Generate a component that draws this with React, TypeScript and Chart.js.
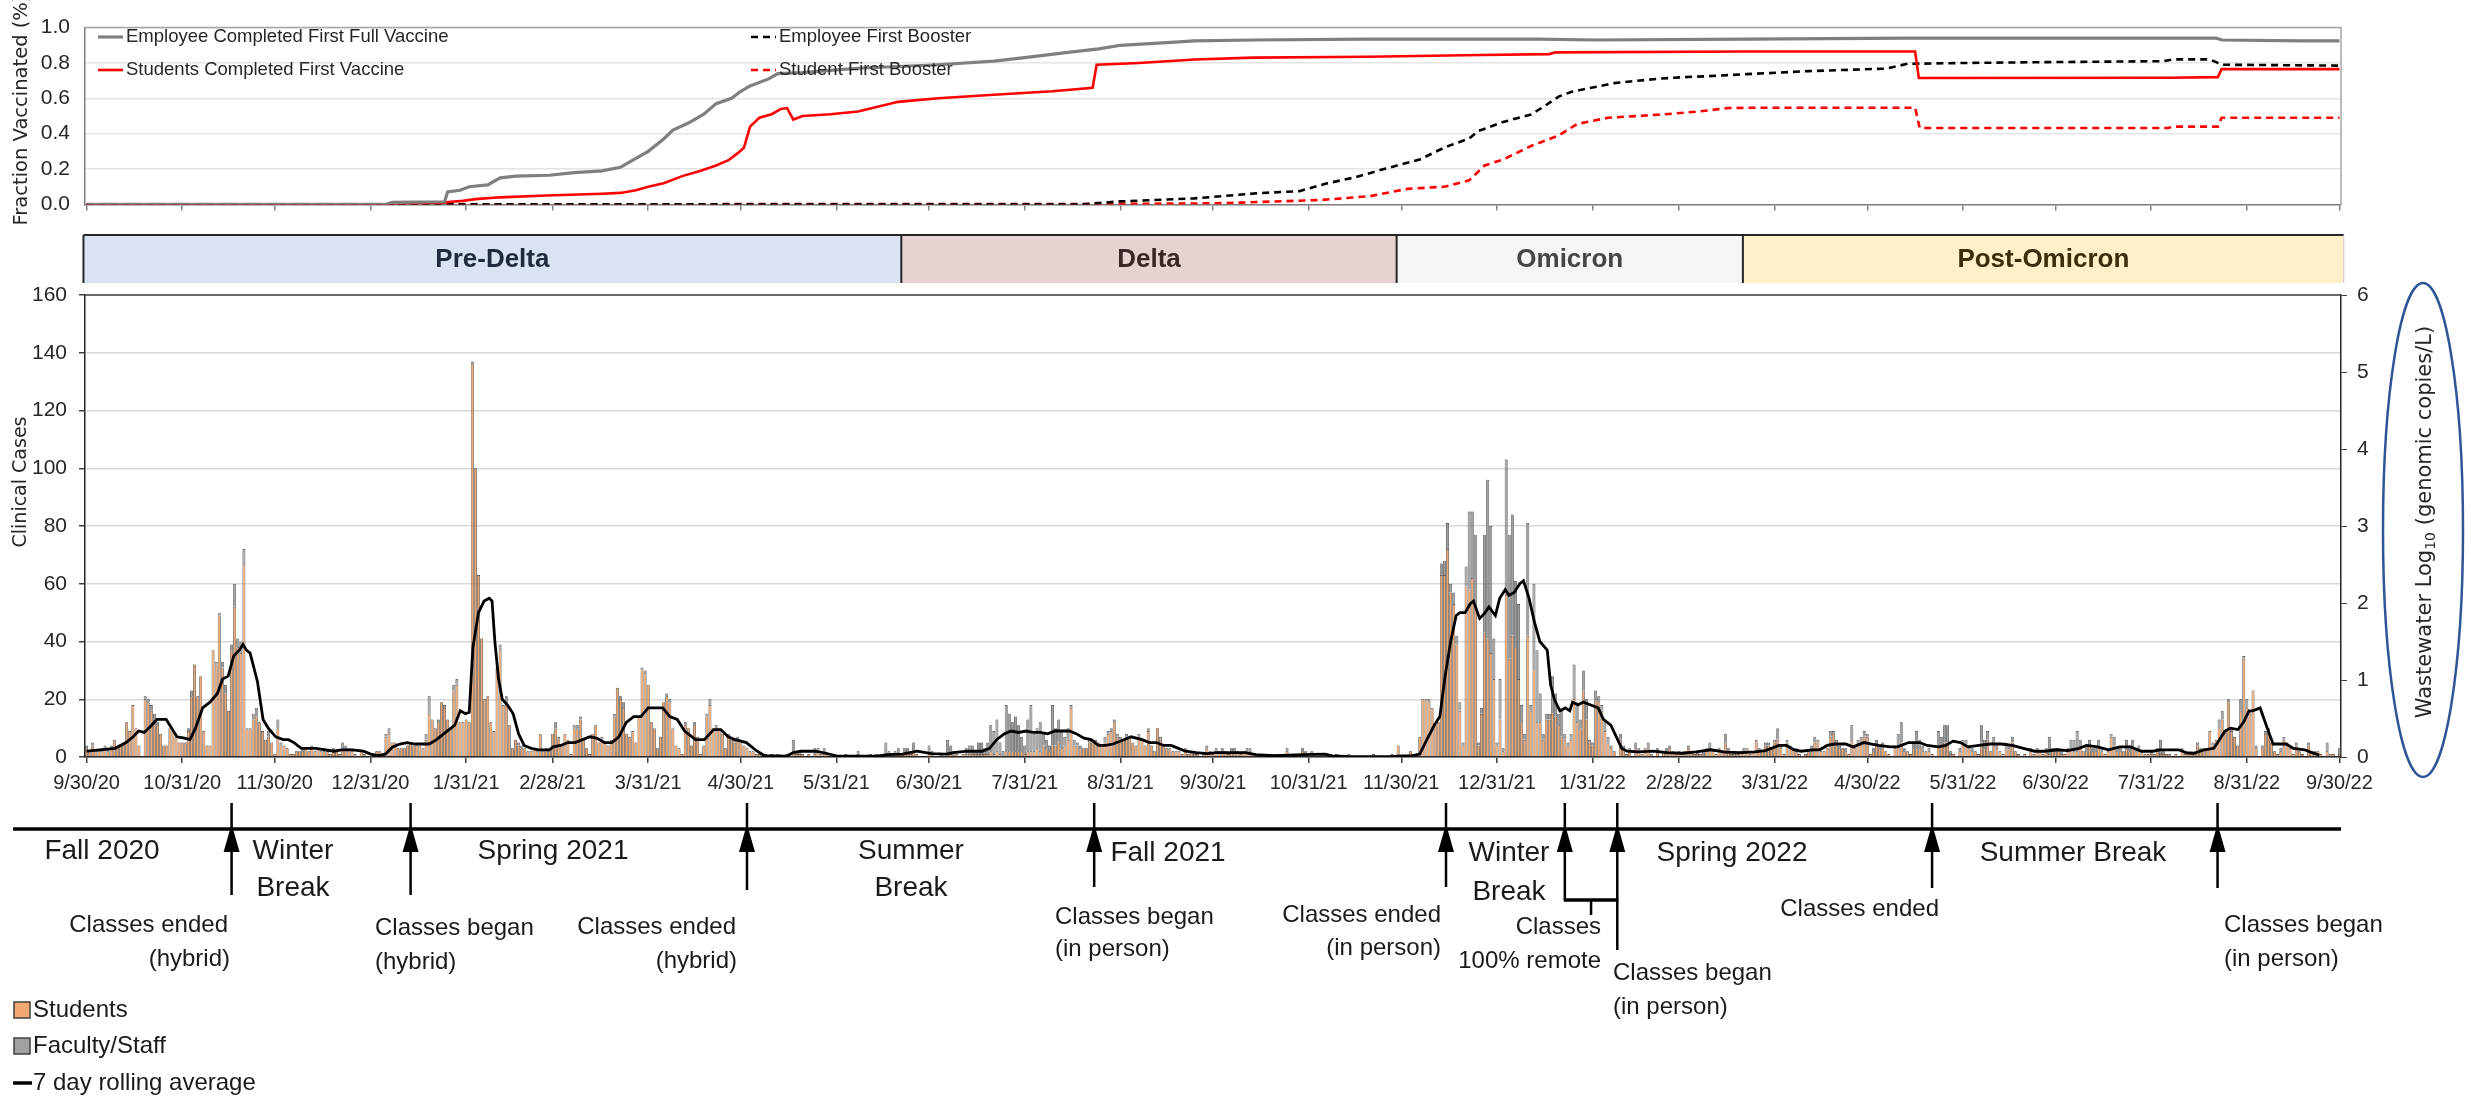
import React, { useEffect, useRef } from 'react';
import { Chart, registerables } from 'chart.js';

Chart.register(...registerables);

// ---------------- DATA ----------------
// x positions are "days since 9/30/2020"
const monthTickDays = [0, 31, 61, 92, 123, 151, 182, 212, 243, 273, 304, 335, 365, 396, 426, 457, 488, 516, 547, 577, 608, 638, 669, 700, 730];
const monthTickLabels = ['9/30/20', '10/31/20', '11/30/20', '12/31/20', '1/31/21', '2/28/21', '3/31/21', '4/30/21', '5/31/21', '6/30/21', '7/31/21', '8/31/21', '9/30/21', '10/31/21', '11/30/21', '12/31/21', '1/31/22', '2/28/22', '3/31/22', '4/30/22', '5/31/22', '6/30/22', '7/31/22', '8/31/22', '9/30/22'];

// daily clinical cases, students (first array starts on 9/30/20)
const studentsOct20 = [3, 2, 4, 2, 2, 2, 3, 2, 3, 6, 3, 4, 5, 12, 9, 18, 10, 4, 0, 20, 19, 16, 13, 11, 8, 4, 4, 10, 9, 7, 5, 5];
const studentsNov20 = [5, 9, 21, 32, 21, 28, 9, 4, 4, 37, 32, 49, 31, 22, 16, 37, 52, 38, 36, 66, 10, 10, 13, 14, 12, 9, 6, 7, 5, 1];
const studentsDec20 = [10, 4, 4, 3, 1, 1, 2, 2, 2, 3, 2, 3, 2, 3, 2, 2, 2, 1, 2, 2, 1, 3, 3, 3, 2, 1, 0, 2, 1, 0, 0];
const studentsJan21 = [0, 2, 2, 1, 7, 8, 5, 5, 3, 3, 3, 4, 5, 4, 4, 4, 3, 6, 15, 13, 10, 12, 19, 17, 13, 10, 23, 25, 12, 12, 13];
const studentsFeb21 = [12, 136, 100, 63, 41, 20, 21, 12, 9, 31, 37, 18, 19, 11, 3, 6, 4, 3, 3, 2, 2, 3, 2, 8, 2, 3, 2, 8];
const studentsMar21 = [10, 6, 4, 8, 6, 1, 10, 10, 13, 6, 3, 1, 8, 11, 5, 6, 5, 4, 6, 14, 24, 20, 17, 8, 7, 9, 5, 14, 30, 29, 25];
const studentsApr21 = [12, 10, 3, 7, 19, 21, 19, 10, 4, 3, 1, 11, 10, 4, 11, 7, 1, 4, 14, 18, 10, 10, 10, 8, 3, 7, 6, 5, 6, 5];
const studentsMay21 = [4, 3, 2, 2, 1, 1, 0, 1, 0, 1, 0, 1, 0, 0, 1, 0, 2, 1, 1, 1, 0, 1, 0, 1, 2, 1, 1, 1, 0, 0, 0];
const studentsJun21 = [0, 0, 1, 0, 0, 0, 1, 0, 0, 0, 1, 0, 1, 0, 0, 1, 1, 0, 1, 1, 1, 1, 2, 1, 2, 1, 0, 0, 0, 1];
const studentsJul21 = [0, 0, 0, 0, 0, 1, 1, 0, 1, 0, 1, 1, 1, 1, 1, 1, 1, 1, 1, 2, 1, 2, 1, 0, 2, 2, 2, 2, 2, 2, 1];
const studentsAug21 = [2, 2, 2, 3, 2, 4, 3, 2, 4, 4, 5, 3, 4, 6, 17, 4, 4, 3, 3, 3, 5, 5, 5, 5, 4, 5, 8, 9, 12, 7, 6];
const studentsSep21 = [6, 7, 7, 5, 4, 7, 6, 4, 9, 4, 2, 10, 6, 4, 3, 3, 2, 2, 2, 1, 3, 1, 2, 1, 1, 0, 1, 3, 2, 1];
const studentsOct21 = [2, 2, 2, 2, 1, 2, 2, 2, 1, 2, 2, 2, 1, 0, 0, 1, 0, 0, 0, 1, 1, 0, 0, 2, 1, 0, 0, 1, 2, 1, 1];
const studentsNov21 = [1, 1, 0, 1, 1, 0, 0, 0, 1, 0, 0, 0, 1, 0, 0, 0, 0, 0, 0, 0, 1, 0, 0, 0, 0, 0, 1, 0, 4, 0];
const studentsDec21 = [0, 0, 2, 1, 1, 7, 20, 20, 19, 17, 11, 12, 63, 63, 72, 57, 53, 39, 16, 4, 59, 58, 62, 53, 4, 15, 43, 41, 36, 27, 4];
const studentsJan22 = [13, 2, 56, 34, 42, 38, 27, 12, 6, 42, 16, 30, 12, 12, 6, 13, 13, 15, 14, 11, 7, 6, 4, 6, 20, 12, 10, 23, 13, 5, 4];
const studentsFeb22 = [20, 19, 16, 9, 5, 3, 2, 0, 6, 3, 1, 2, 0, 3, 2, 1, 3, 3, 1, 0, 2, 0, 2, 2, 3, 2, 1, 1];
const studentsMar22 = [1, 1, 3, 2, 1, 1, 1, 1, 2, 3, 2, 1, 2, 2, 5, 2, 1, 1, 1, 2, 2, 3, 1, 2, 5, 2, 2, 4, 4, 3, 5];
const studentsApr22 = [6, 3, 1, 5, 3, 3, 2, 1, 0, 1, 2, 2, 5, 5, 2, 2, 3, 7, 8, 5, 3, 3, 2, 1, 5, 3, 4, 5, 7, 7];
const studentsMay22 = [1, 2, 4, 3, 3, 2, 1, 0, 3, 4, 5, 2, 2, 1, 3, 3, 3, 2, 2, 2, 1, 0, 4, 4, 5, 5, 1, 1, 0, 2, 4];
const studentsJun22 = [4, 3, 2, 2, 1, 5, 3, 6, 2, 4, 3, 2, 1, 3, 3, 5, 2, 1, 0, 1, 0, 2, 1, 2, 2, 1, 2, 1, 2, 2];
const studentsJul22 = [2, 1, 1, 2, 3, 2, 2, 3, 2, 2, 4, 2, 2, 3, 2, 1, 2, 7, 4, 2, 2, 2, 3, 2, 3, 2, 2, 2, 1, 1, 1];
const studentsAug22 = [1, 2, 1, 1, 1, 1, 0, 1, 0, 2, 1, 1, 1, 1, 4, 2, 3, 3, 9, 4, 6, 10, 13, 8, 19, 9, 7, 4, 16, 34, 17];
const studentsSep22 = [15, 23, 3, 0, 3, 8, 9, 5, 2, 1, 2, 6, 4, 3, 1, 4, 2, 1, 0, 4, 2, 2, 2, 1, 0, 2, 1, 1, 0, 1];

// daily clinical cases, faculty/staff
const facultyOct20 = [1, 0, 1, 0, 0, 1, 1, 1, 1, 0, 0, 0, 0, 0, 0, 0, 0, 0, 0, 1, 1, 2, 2, 1, 0, 0, 0, 0, 0, 0, 0, 0];
const facultyNov20 = [0, 1, 2, 0, 0, 0, 0, 0, 0, 0, 1, 1, 2, 3, 0, 2, 8, 3, 4, 6, 0, 0, 2, 3, 0, 0, 0, 2, 0, 0];
const facultyDec20 = [3, 1, 0, 0, 0, 0, 0, 0, 1, 0, 0, 1, 0, 0, 0, 1, 0, 0, 1, 0, 0, 2, 1, 0, 0, 0, 0, 0, 0, 0, 0];
const facultyJan21 = [0, 0, 0, 0, 1, 2, 0, 0, 0, 0, 0, 0, 0, 0, 0, 0, 0, 2, 6, 0, 0, 1, 0, 1, 0, 0, 2, 2, 0, 0, 0];
const facultyFeb21 = [0, 1, 0, 0, 0, 0, 0, 0, 0, 0, 2, 0, 2, 0, 0, 0, 1, 1, 0, 0, 0, 0, 0, 0, 0, 0, 0, 0];
const facultyMar21 = [2, 1, 0, 0, 0, 0, 1, 1, 1, 0, 0, 0, 0, 0, 0, 1, 0, 0, 0, 1, 0, 1, 2, 0, 0, 0, 0, 0, 1, 1, 0];
const facultyApr21 = [0, 0, 0, 0, 0, 1, 1, 0, 0, 0, 0, 1, 0, 0, 1, 0, 0, 0, 1, 2, 0, 1, 0, 0, 0, 1, 1, 1, 1, 0];
const facultyMay21 = [0, 0, 0, 0, 0, 0, 0, 0, 0, 0, 0, 0, 0, 0, 0, 0, 4, 1, 1, 0, 0, 0, 0, 2, 1, 0, 2, 0, 0, 0, 0];
const facultyJun21 = [0, 0, 0, 0, 0, 0, 1, 0, 0, 0, 0, 0, 0, 0, 0, 4, 1, 0, 1, 2, 0, 2, 1, 0, 3, 0, 0, 0, 0, 3];
const facultyJul21 = [2, 0, 0, 1, 0, 5, 3, 2, 0, 0, 0, 2, 3, 3, 1, 4, 4, 2, 4, 9, 8, 11, 4, 2, 16, 13, 10, 12, 9, 5, 3];
const facultyAug21 = [11, 16, 6, 7, 10, 4, 3, 2, 14, 6, 8, 6, 3, 4, 1, 2, 1, 1, 0, 0, 1, 1, 1, 0, 0, 2, 1, 1, 1, 1, 1];
const facultySep21 = [0, 1, 0, 0, 0, 1, 0, 0, 1, 0, 0, 0, 1, 0, 0, 0, 0, 0, 0, 0, 0, 0, 0, 0, 0, 0, 0, 1, 0, 0];
const facultyOct21 = [1, 0, 1, 0, 0, 1, 1, 0, 0, 0, 1, 1, 0, 0, 0, 0, 0, 0, 0, 0, 0, 0, 0, 1, 0, 0, 0, 0, 1, 1, 0];
const facultyNov21 = [1, 0, 0, 0, 0, 0, 0, 0, 0, 0, 0, 0, 0, 0, 0, 0, 0, 0, 0, 0, 0, 0, 0, 0, 0, 0, 0, 0, 0, 0];
const facultyDec21 = [0, 0, 0, 0, 0, 0, 0, 0, 1, 0, 0, 0, 4, 5, 9, 3, 4, 3, 3, 1, 7, 27, 23, 24, 1, 2, 34, 55, 44, 14, 1];
const facultyJan22 = [14, 1, 47, 43, 42, 23, 26, 6, 2, 39, 2, 30, 25, 10, 2, 2, 2, 13, 8, 4, 9, 2, 1, 2, 12, 7, 3, 7, 7, 1, 1];
const facultyFeb22 = [3, 2, 2, 3, 2, 1, 0, 0, 2, 1, 0, 1, 0, 2, 1, 0, 0, 2, 0, 0, 1, 0, 0, 1, 1, 0, 0, 1];
const facultyMar22 = [0, 1, 1, 0, 0, 1, 0, 1, 1, 2, 0, 0, 1, 0, 3, 1, 0, 1, 0, 0, 1, 0, 0, 0, 1, 1, 0, 1, 1, 0, 1];
const facultyApr22 = [4, 1, 0, 1, 1, 0, 1, 0, 0, 0, 0, 2, 2, 1, 0, 0, 0, 2, 1, 1, 1, 0, 1, 0, 6, 1, 2, 2, 2, 1];
const facultyMay22 = [0, 1, 2, 1, 2, 0, 0, 0, 1, 4, 7, 1, 0, 0, 2, 6, 3, 2, 0, 1, 0, 0, 5, 3, 6, 6, 1, 0, 0, 1, 2];
const facultyJun22 = [2, 1, 1, 0, 0, 6, 3, 3, 0, 3, 1, 0, 0, 2, 1, 2, 0, 0, 0, 0, 0, 1, 0, 1, 0, 0, 1, 6, 1, 1];
const facultyJul22 = [1, 1, 0, 1, 3, 4, 7, 3, 0, 2, 2, 1, 1, 3, 1, 0, 0, 1, 3, 1, 1, 0, 3, 2, 3, 1, 2, 0, 0, 0, 1];
const facultyAug22 = [0, 1, 5, 1, 0, 0, 0, 0, 0, 1, 1, 0, 0, 0, 1, 1, 0, 0, 0, 1, 0, 3, 3, 1, 1, 1, 0, 0, 4, 1, 3];
const facultySep22 = [1, 0, 1, 0, 1, 1, 1, 0, 0, 0, 1, 1, 1, 0, 0, 1, 0, 0, 0, 1, 0, 0, 0, 0, 0, 3, 0, 0, 0, 2];

// 7 day rolling average [day, cases]
const rollingAverage: [number, number][] = [[0, 2], [4.5, 2.5], [9.2, 3], [12.8, 5], [15.1, 7], [16.9, 9], [18.7, 8.5], [21.1, 11], [22.8, 13], [25.8, 13], [27.6, 10], [29.3, 7], [31.7, 6.5], [33.5, 6], [35.3, 10], [37.6, 17], [40, 19], [42.4, 22], [44.1, 27], [45.9, 28], [47.7, 35], [49.5, 37], [50.7, 39], [51.8, 37], [53, 36], [55.4, 26], [57.2, 13], [58.9, 10], [61.3, 7], [63.7, 6], [65.4, 6], [67.2, 5], [69.6, 3], [74.3, 3], [80.2, 2], [82.6, 2.5], [86.2, 2.5], [89.7, 2], [92.1, 1], [94.4, 0.5], [96.8, 1], [99.2, 3.5], [101.5, 4.5], [103.9, 5], [106.3, 4.5], [111, 4.5], [113.4, 6], [115.7, 8], [118.1, 10], [119.3, 11], [121.1, 16], [122.8, 15], [124, 15.5], [125.2, 38], [127, 50], [128.8, 54], [130.5, 55], [131.4, 54], [132.3, 40], [133.5, 27], [134.7, 20], [136.4, 18], [138.2, 15], [140, 8], [141.8, 4], [144.1, 3], [146.5, 2.5], [150, 2.5], [151.2, 3.5], [153.6, 4], [156, 5], [158.3, 5], [160.7, 6], [163.1, 7], [165.4, 6.5], [167.8, 5], [170.2, 5], [172.5, 7], [174.9, 12], [177.3, 14], [179.6, 14], [182, 17], [184.4, 17], [186.7, 17], [189, 14], [191.4, 13], [193.8, 9], [197.3, 6], [200.2, 6], [203.2, 9.5], [205.5, 9.5], [207.9, 7], [210.2, 6], [213.8, 5], [217.3, 2], [219.6, 0.5], [226.7, 0.3], [229, 1.5], [231.4, 2], [236.1, 2], [239.6, 1.3], [243.2, 0.3], [256.1, 0.3], [259.6, 0.8], [264.4, 1], [269.1, 2], [273.8, 1.2], [278.5, 1], [280.8, 1.5], [285.5, 2], [290.2, 2], [292.6, 3], [294.9, 6], [297.3, 8], [299.6, 9], [302, 8.5], [304.4, 9], [306.7, 8.5], [309.1, 8.5], [311.4, 8], [313.8, 9], [316.1, 9], [318.5, 9], [320.8, 8], [323.2, 6.5], [325.5, 6], [327.9, 4], [330.2, 4], [332.6, 4.5], [336.1, 6], [338.5, 7], [342, 6], [344.4, 5], [346.7, 5], [349.1, 4], [351.4, 4], [353.8, 3], [356.1, 2], [359.6, 1.5], [363.2, 1.2], [366, 1.5], [370.7, 1.5], [375.4, 1.5], [378.9, 0.8], [384.8, 0.5], [391.9, 0.7], [396.6, 0.9], [401.3, 1], [403.7, 0.4], [408.4, 0.2], [417.8, 0.1], [422.5, 0.1], [426.1, 0.4], [429.6, 0.5], [432, 1], [434.3, 6], [436.7, 11], [438.5, 14], [440.2, 28], [442, 40], [443.8, 49], [445, 50], [446.7, 50], [448.3, 53], [449.4, 54], [451.4, 48], [453.2, 50], [454.4, 52], [456.5, 49], [457.9, 55], [459.7, 58], [460.9, 56], [462.6, 57], [464.4, 60], [465.6, 61], [467.4, 55], [469.1, 47], [470.9, 40], [473.3, 37], [474.4, 25], [475.6, 20], [477.4, 16], [479.2, 17], [480.6, 16], [481.5, 19], [483.3, 18], [485, 19], [487.4, 18], [489.8, 17], [491.5, 13], [493.9, 11], [495.7, 7], [497.4, 3], [499.2, 2], [502.7, 1.8], [507.5, 2], [512.2, 1.5], [516.9, 1.3], [521.6, 1.8], [526.3, 2.5], [531, 1.7], [535.8, 1.5], [540.5, 1.8], [544, 2.2], [548.4, 4], [550.8, 4], [553.2, 2.5], [555.6, 2], [559.2, 2.5], [561.6, 2.5], [564, 4], [566.4, 4.5], [570, 4.5], [572.4, 3.5], [576, 5], [578.4, 4.5], [580.8, 4], [584.4, 3.5], [586.8, 3.5], [590.4, 5], [594, 5], [596.4, 4], [600, 3.5], [602.4, 4], [604.8, 5.5], [607.2, 5], [609.6, 3.5], [613.2, 4], [616.8, 4.5], [620.4, 4.5], [624, 4], [627.6, 3], [631.2, 2], [634.8, 2], [638.4, 2.5], [642, 2.2], [645.6, 3], [648, 4], [651.6, 3.5], [655.2, 2.5], [658.8, 3.5], [662.3, 3.5], [665.9, 2], [669.5, 2], [671.9, 2.5], [674.3, 2.5], [677.9, 2.5], [680.3, 1.5], [682.7, 1.3], [686.3, 2.5], [689.3, 3], [691.1, 6], [692.9, 9], [694.7, 10], [697.1, 9.5], [698.9, 12], [700.7, 16], [701.9, 16], [704.3, 17], [706.6, 10], [708.5, 4.5], [710.3, 4.5], [712.7, 4.5], [715.1, 3], [718.7, 2.5], [721.1, 1.5], [723.5, 0.7]];

// vaccination fractions [day, fraction]
const employeeFullVaccine: [number, number][] = [[0, 0], [97, 0], [99, 0.012], [116, 0.015], [117, 0.07], [121, 0.08], [124, 0.1], [130, 0.11], [134, 0.15], [139, 0.16], [150, 0.165], [158, 0.18], [167, 0.19], [173, 0.21], [176, 0.24], [182, 0.3], [187, 0.37], [190, 0.42], [195, 0.46], [200, 0.51], [204, 0.57], [209, 0.6], [212, 0.64], [215, 0.67], [221, 0.71], [224, 0.74], [232, 0.745], [242, 0.76], [250, 0.77], [263, 0.78], [276, 0.79], [294, 0.81], [304, 0.83], [318, 0.86], [328, 0.88], [335, 0.9], [350, 0.915], [359, 0.925], [378, 0.93], [415, 0.935], [470, 0.935], [489, 0.93], [538, 0.935], [590, 0.94], [690, 0.94], [692, 0.93], [718, 0.925], [730, 0.925]];
const studentFirstVaccine: [number, number][] = [[0, 0], [98, 0], [99, 0.005], [116, 0.01], [118, 0.015], [122, 0.02], [126, 0.03], [134, 0.04], [149, 0.05], [167, 0.06], [173, 0.065], [178, 0.08], [182, 0.1], [187, 0.12], [193, 0.16], [199, 0.19], [204, 0.22], [208, 0.25], [211, 0.29], [213, 0.32], [215, 0.44], [218, 0.49], [222, 0.51], [225, 0.54], [227, 0.545], [229, 0.48], [232, 0.5], [241, 0.51], [250, 0.525], [263, 0.58], [276, 0.6], [294, 0.62], [313, 0.64], [326, 0.66], [327.3, 0.79], [341, 0.8], [359, 0.82], [378, 0.83], [415, 0.835], [452, 0.845], [474, 0.85], [476, 0.86], [538, 0.865], [592.5, 0.865], [593.7, 0.715], [674.5, 0.716], [690.6, 0.72], [691.8, 0.765], [730, 0.765]];
const employeeFirstBooster: [number, number][] = [[0, 0], [322, 0], [335, 0.017], [359, 0.034], [380, 0.064], [393, 0.075], [402, 0.119], [411, 0.153], [421, 0.203], [432, 0.254], [440, 0.322], [448, 0.373], [451, 0.415], [459, 0.466], [468, 0.508], [472, 0.551], [477, 0.61], [481, 0.636], [495, 0.686], [510, 0.712], [518, 0.72], [525, 0.725], [538, 0.737], [548, 0.745], [558, 0.754], [583, 0.768], [590, 0.795], [609, 0.8], [636, 0.805], [673, 0.81], [676, 0.82], [688, 0.82], [692, 0.79], [730, 0.785]];
const studentFirstBooster: [number, number][] = [[0, 0], [322, 0.002], [359, 0.005], [370, 0.008], [400, 0.025], [416, 0.047], [428, 0.088], [440, 0.1], [448, 0.136], [453, 0.22], [459, 0.254], [468, 0.33], [477, 0.39], [483, 0.455], [493, 0.49], [510, 0.508], [522, 0.525], [532, 0.545], [541, 0.547], [592.5, 0.547], [594, 0.432], [674.5, 0.432], [676, 0.44], [690.6, 0.44], [691.8, 0.49], [730, 0.49]];

// variant periods
const variantNames = ['Pre-Delta', 'Delta', 'Omicron', 'Post-Omicron'];
const variantStartDays = [-1, 264, 424.5, 536.7];
const variantEndDays = [264, 424.5, 536.7, 731.4];

// academic calendar events (arrows)
const eventDays = [47, 105, 214, 326.5, 440.5, 479, 496, 598, 690.5];

// ---------------- LAYOUT / STYLE ----------------
const W = 2471;
const H = 1102;
const TOP_H = 232;
const MAIN_TOP = 232;
const FONT = '"Liberation Sans", Arial, sans-serif';
const TITLE_FONT = '"DejaVu Sans", Verdana, sans-serif';
const TEXT = '#1a1a1a';

const BAND_FILLS = ['#DAE3F1', '#E7D2D2', '#F5F5F5', '#FEF0C8'];
const BAND_TEXT = ['#1F2B3D', '#3A2626', '#454545', '#3A2E0C'];
const ARROW_BOTTOMS = [895, 895, 890, 887, 887, 900, 950, 888, 888];

Chart.defaults.font.family = FONT;

const concat = (...arrs: number[][]) => ([] as number[]).concat(...arrs);
const studentsDaily = concat(studentsOct20, studentsNov20, studentsDec20, studentsJan21, studentsFeb21, studentsMar21, studentsApr21, studentsMay21, studentsJun21, studentsJul21, studentsAug21, studentsSep21, studentsOct21, studentsNov21, studentsDec21, studentsJan22, studentsFeb22, studentsMar22, studentsApr22, studentsMay22, studentsJun22, studentsJul22, studentsAug22, studentsSep22);
const facultyDaily = concat(facultyOct20, facultyNov20, facultyDec20, facultyJan21, facultyFeb21, facultyMar21, facultyApr21, facultyMay21, facultyJun21, facultyJul21, facultyAug21, facultySep21, facultyOct21, facultyNov21, facultyDec21, facultyJan22, facultyFeb22, facultyMar22, facultyApr22, facultyMay22, facultyJun22, facultyJul22, facultyAug22, facultySep22);

const pairsToXY = (p: [number, number][]) => p.map(([x, y]) => ({ x, y }));

type TextItem = { t: string; x: number; y: number; align: CanvasTextAlign; size: number };
const timelineTexts: TextItem[] = [
  { t: 'Fall 2020', x: 102, y: 851, align: 'center', size: 28 },
  { t: 'Winter', x: 293, y: 851, align: 'center', size: 28 },
  { t: 'Break', x: 293, y: 888, align: 'center', size: 28 },
  { t: 'Spring 2021', x: 553, y: 851, align: 'center', size: 28 },
  { t: 'Summer', x: 911, y: 851, align: 'center', size: 28 },
  { t: 'Break', x: 911, y: 888, align: 'center', size: 28 },
  { t: 'Fall 2021', x: 1168, y: 853, align: 'center', size: 28 },
  { t: 'Winter', x: 1509, y: 853, align: 'center', size: 28 },
  { t: 'Break', x: 1509, y: 892, align: 'center', size: 28 },
  { t: 'Spring 2022', x: 1732, y: 853, align: 'center', size: 28 },
  { t: 'Summer Break', x: 2073, y: 853, align: 'center', size: 28 },
  { t: 'Classes ended', x: 228, y: 925, align: 'right', size: 24 },
  { t: '(hybrid)', x: 230, y: 959, align: 'right', size: 24 },
  { t: 'Classes began', x: 375, y: 928, align: 'left', size: 24 },
  { t: '(hybrid)', x: 375, y: 962, align: 'left', size: 24 },
  { t: 'Classes ended', x: 736, y: 927, align: 'right', size: 24 },
  { t: '(hybrid)', x: 737, y: 961, align: 'right', size: 24 },
  { t: 'Classes began', x: 1055, y: 917, align: 'left', size: 24 },
  { t: '(in person)', x: 1055, y: 949, align: 'left', size: 24 },
  { t: 'Classes ended', x: 1441, y: 915, align: 'right', size: 24 },
  { t: '(in person)', x: 1441, y: 948, align: 'right', size: 24 },
  { t: 'Classes', x: 1601, y: 927, align: 'right', size: 24 },
  { t: '100% remote', x: 1601, y: 961, align: 'right', size: 24 },
  { t: 'Classes began', x: 1613, y: 973, align: 'left', size: 24 },
  { t: '(in person)', x: 1613, y: 1007, align: 'left', size: 24 },
  { t: 'Classes ended', x: 1939, y: 909, align: 'right', size: 24 },
  { t: 'Classes began', x: 2224, y: 925, align: 'left', size: 24 },
  { t: '(in person)', x: 2224, y: 959, align: 'left', size: 24 },
];

// ---------------- PLUGINS ----------------
const topDecor = {
  id: 'topDecor',
  afterDraw(chart: any) {
    const ctx = chart.ctx as CanvasRenderingContext2D;
    const ca = chart.chartArea;
    ctx.save();
    ctx.strokeStyle = '#A6A6A6';
    ctx.lineWidth = 1.5;
    ctx.beginPath();
    ctx.moveTo(ca.left, ca.top);
    ctx.lineTo(ca.right, ca.top);
    ctx.lineTo(ca.right, ca.bottom);
    ctx.stroke();

    // legend
    const ds = chart.data.datasets;
    const pos = [
      { x: 98, y: 37 },
      { x: 98, y: 70 },
      { x: 751, y: 37 },
      { x: 751, y: 70 },
    ];
    ds.forEach((d: any, i: number) => {
      const p = pos[i];
      ctx.strokeStyle = d.borderColor;
      ctx.lineWidth = d.borderWidth;
      ctx.setLineDash(d.borderDash || []);
      ctx.beginPath();
      ctx.moveTo(p.x, p.y);
      ctx.lineTo(p.x + 25, p.y);
      ctx.stroke();
      ctx.setLineDash([]);
      ctx.fillStyle = '#262626';
      ctx.font = `18.5px ${FONT}`;
      ctx.textAlign = 'left';
      ctx.textBaseline = 'middle';
      ctx.fillText(d.label, p.x + 28, p.y);
    });

    // y title
    ctx.translate(22, 110);
    ctx.rotate(-Math.PI / 2);
    ctx.font = `19.5px ${TITLE_FONT}`;
    ctx.fillStyle = '#262626';
    ctx.textAlign = 'center';
    ctx.textBaseline = 'middle';
    ctx.fillText('Fraction Vaccinated (%)', 0, 0);
    ctx.restore();
  },
};

const mainDecor = {
  id: 'mainDecor',
  afterDraw(chart: any) {
    const ctx = chart.ctx as CanvasRenderingContext2D;
    const xs = chart.scales.x;
    const ca = chart.chartArea;
    const Y = (y: number) => y - MAIN_TOP;
    const line = (x0: number, y0: number, x1: number, y1: number) => {
      ctx.beginPath();
      ctx.moveTo(x0, y0);
      ctx.lineTo(x1, y1);
      ctx.stroke();
    };
    ctx.save();

    // plot top border
    ctx.strokeStyle = '#404040';
    ctx.lineWidth = 1.5;
    line(ca.left, ca.top, ca.right, ca.top);

    // variant band
    const bTop = Y(235);
    const bBot = Y(283);
    const bx0: number[] = [];
    const bx1: number[] = [];
    variantNames.forEach((_n, i) => {
      const x0 = xs.getPixelForValue(variantStartDays[i]);
      const x1 = xs.getPixelForValue(variantEndDays[i]);
      bx0.push(x0);
      bx1.push(x1);
      ctx.fillStyle = BAND_FILLS[i];
      ctx.fillRect(x0, bTop, x1 - x0, bBot - bTop);
    });
    ctx.strokeStyle = '#262626';
    ctx.lineWidth = 2;
    line(bx0[0], bTop, bx1[bx1.length - 1], bTop);
    bx0.forEach((x) => line(x, bTop, x, bBot));
    ctx.strokeStyle = '#C8C8C8';
    ctx.lineWidth = 1;
    line(bx1[bx1.length - 1], bTop, bx1[bx1.length - 1], bBot);
    ctx.font = `bold 26px ${FONT}`;
    ctx.textAlign = 'center';
    ctx.textBaseline = 'middle';
    variantNames.forEach((name, i) => {
      ctx.fillStyle = BAND_TEXT[i];
      ctx.fillText(name, (bx0[i] + bx1[i]) / 2, Y(260));
    });

    // left y title
    ctx.save();
    ctx.translate(21, Y(482));
    ctx.rotate(-Math.PI / 2);
    ctx.font = `19px ${TITLE_FONT}`;
    ctx.fillStyle = '#262626';
    ctx.textAlign = 'center';
    ctx.textBaseline = 'middle';
    ctx.fillText('Clinical Cases', 0, 0);
    ctx.restore();

    // right y title with subscript
    ctx.save();
    ctx.translate(2426, Y(522));
    ctx.rotate(-Math.PI / 2);
    const big = `21px ${TITLE_FONT}`;
    const small = `14px ${TITLE_FONT}`;
    const p1 = 'Wastewater Log';
    const p2 = '10';
    const p3 = ' (genomic copies/L)';
    ctx.font = big;
    const w1 = ctx.measureText(p1).width;
    const w3 = ctx.measureText(p3).width;
    ctx.font = small;
    const w2 = ctx.measureText(p2).width;
    let tx = -(w1 + w2 + w3) / 2;
    ctx.fillStyle = '#262626';
    ctx.textAlign = 'left';
    ctx.textBaseline = 'middle';
    ctx.font = big;
    ctx.fillText(p1, tx, 0);
    tx += w1;
    ctx.font = small;
    ctx.fillText(p2, tx, 5);
    tx += w2;
    ctx.font = big;
    ctx.fillText(p3, tx, 0);
    ctx.restore();

    // ellipse around right title
    ctx.strokeStyle = '#2F5597';
    ctx.lineWidth = 2.5;
    ctx.beginPath();
    ctx.ellipse(2423, Y(530), 40, 247, 0, 0, Math.PI * 2);
    ctx.stroke();

    // timeline
    ctx.strokeStyle = '#000';
    ctx.fillStyle = '#000';
    ctx.lineWidth = 3.5;
    line(13, Y(829), ca.right, Y(829));
    eventDays.forEach((d, i) => {
      const x = xs.getPixelForValue(d);
      ctx.lineWidth = 2.5;
      line(x, Y(803), x, Y(ARROW_BOTTOMS[i]));
      ctx.beginPath();
      ctx.moveTo(x, Y(824));
      ctx.lineTo(x - 8, Y(852));
      ctx.lineTo(x + 8, Y(852));
      ctx.closePath();
      ctx.fill();
    });
    // bracket for the remote period
    const xa = xs.getPixelForValue(eventDays[5]);
    const xb = xs.getPixelForValue(eventDays[6]);
    ctx.lineWidth = 3.5;
    line(xa - 1, Y(900), xb + 1, Y(900));
    ctx.lineWidth = 2.5;
    line((xa + xb) / 2, Y(900), (xa + xb) / 2, Y(915));

    // timeline texts
    ctx.fillStyle = TEXT;
    ctx.textBaseline = 'middle';
    timelineTexts.forEach((tt) => {
      ctx.font = `${tt.size}px ${FONT}`;
      ctx.textAlign = tt.align;
      ctx.fillText(tt.t, tt.x, Y(tt.y));
    });

    // legend (bottom-left)
    const ds = chart.data.datasets;
    ctx.font = `24px ${FONT}`;
    ctx.textAlign = 'left';
    const legendRows = [
      { y: 1010, d: ds[1] },
      { y: 1046, d: ds[2] },
      { y: 1083, d: ds[0] },
    ];
    legendRows.forEach((r) => {
      if (r.d.type === 'bar') {
        ctx.fillStyle = r.d.backgroundColor;
        ctx.fillRect(14, Y(r.y - 8), 16, 16);
        ctx.strokeStyle = '#404040';
        ctx.lineWidth = 1.5;
        ctx.strokeRect(14, Y(r.y - 8), 16, 16);
      } else {
        ctx.strokeStyle = '#000';
        ctx.lineWidth = 3.5;
        line(13, Y(r.y), 32, Y(r.y));
      }
      ctx.fillStyle = TEXT;
      ctx.fillText(r.d.label, 33, Y(r.y));
    });

    ctx.restore();
  },
};

// ---------------- CHARTS ----------------
function topConfig(): any {
  const lineDs = (label: string, data: [number, number][], color: string, width: number, dash: number[]) => ({
    type: 'line',
    label,
    data: pairsToXY(data),
    borderColor: color,
    borderWidth: width,
    borderDash: dash,
    pointRadius: 0,
    tension: 0,
    fill: false,
  });
  return {
    type: 'line',
    data: {
      datasets: [
        lineDs('Employee Completed First Full Vaccine', employeeFullVaccine, '#7F7F7F', 3.2, []),
        lineDs('Students Completed First Vaccine', studentFirstVaccine, '#FF0000', 2.6, []),
        lineDs('Employee First Booster', employeeFirstBooster, '#000000', 2.6, [7, 5]),
        lineDs('Student First Booster', studentFirstBooster, '#FF0000', 2.6, [7, 5]),
      ],
    },
    options: {
      animation: false,
      responsive: false,
      devicePixelRatio: 1,
      layout: { padding: { top: 21, right: W - 2341, left: 0, bottom: 0 } },
      plugins: { legend: { display: false }, tooltip: { enabled: false } },
      scales: {
        x: {
          type: 'linear',
          min: -0.5,
          max: 730.5,
          offset: false,
          afterBuildTicks: (s: any) => {
            s.ticks = monthTickDays.map((v) => ({ value: v }));
          },
          ticks: { display: false, autoSkip: false },
          grid: { drawOnChartArea: false, drawTicks: true, tickLength: 6, tickColor: '#7F7F7F', lineWidth: 1.5 },
          border: { color: '#7F7F7F', width: 1.5 },
          afterFit: (s: any) => {
            s.height = TOP_H - 217;
          },
        },
        y: {
          min: 0,
          max: 1,
          ticks: {
            stepSize: 0.2,
            callback: (v: number) => Number(v).toFixed(1),
            font: { family: FONT, size: 21 },
            color: '#262626',
            padding: 15,
          },
          grid: { color: '#E4E4E4', lineWidth: 1.5, drawTicks: false },
          border: { color: '#7F7F7F', width: 1.5 },
          afterFit: (s: any) => {
            s.width = 85;
          },
        },
      },
    },
    plugins: [topDecor],
  };
}

function mainConfig(): any {
  return {
    type: 'bar',
    data: {
      datasets: [
        {
          type: 'line',
          label: '7 day rolling average',
          data: pairsToXY(rollingAverage),
          borderColor: '#000000',
          borderWidth: 2.8,
          pointRadius: 0,
          tension: 0,
          fill: false,
          stack: 'avg',
          order: 0,
        },
        {
          type: 'bar',
          label: 'Students',
          data: studentsDaily.map((v, i) => ({ x: i, y: v })),
          backgroundColor: '#F3A871',
          borderColor: '#333333',
          borderWidth: 0.7,
          borderSkipped: 'start',
          barPercentage: 0.95,
          categoryPercentage: 1,
          stack: 'cases',
          order: 1,
        },
        {
          type: 'bar',
          label: 'Faculty/Staff',
          data: facultyDaily.map((v, i) => ({ x: i, y: v })),
          backgroundColor: '#A0A0A0',
          borderColor: '#333333',
          borderWidth: 0.7,
          borderSkipped: 'start',
          barPercentage: 0.95,
          categoryPercentage: 1,
          stack: 'cases',
          order: 1,
        },
      ],
    },
    options: {
      animation: false,
      responsive: false,
      devicePixelRatio: 1,
      layout: { padding: { top: 295 - MAIN_TOP, right: W - 2341 - 50, left: 0, bottom: 0 } },
      plugins: { legend: { display: false }, tooltip: { enabled: false } },
      scales: {
        x: {
          type: 'linear',
          min: -0.5,
          max: 730.5,
          offset: false,
          stacked: true,
          afterBuildTicks: (s: any) => {
            s.ticks = monthTickDays.map((v) => ({ value: v }));
          },
          ticks: {
            autoSkip: false,
            maxRotation: 0,
            minRotation: 0,
            callback: (_v: number, i: number) => monthTickLabels[i] ?? '',
            font: { family: FONT, size: 20 },
            color: '#262626',
            padding: 8,
          },
          grid: { drawOnChartArea: false, drawTicks: true, tickLength: 6, tickColor: '#404040', lineWidth: 1.5, offset: false },
          border: { color: '#262626', width: 1.5 },
          afterFit: (s: any) => {
            s.height = H - 757;
          },
        },
        y: {
          stacked: true,
          min: 0,
          max: 160,
          ticks: { stepSize: 20, font: { family: FONT, size: 21 }, color: '#262626', padding: 12 },
          grid: { color: '#D9D9D9', lineWidth: 1.5, drawTicks: true, tickLength: 6, tickColor: '#404040' },
          border: { color: '#262626', width: 1.5 },
          afterFit: (s: any) => {
            s.width = 85;
          },
        },
        y2: {
          position: 'right',
          min: 0,
          max: 6,
          ticks: { stepSize: 1, font: { family: FONT, size: 21 }, color: '#262626', padding: 10 },
          grid: { drawOnChartArea: false, drawTicks: true, tickLength: 6, tickColor: '#404040' },
          border: { color: '#262626', width: 1.5 },
          afterFit: (s: any) => {
            s.width = 50;
          },
        },
      },
    },
    plugins: [mainDecor],
  };
}

export default function App() {
  const topRef = useRef<HTMLCanvasElement>(null);
  const mainRef = useRef<HTMLCanvasElement>(null);
  useEffect(() => {
    const top = new Chart(topRef.current as HTMLCanvasElement, topConfig());
    const main = new Chart(mainRef.current as HTMLCanvasElement, mainConfig());
    return () => {
      top.destroy();
      main.destroy();
    };
  }, []);
  return (
    <div style={{ position: 'absolute', left: 0, top: 0, width: W, height: H, background: '#ffffff', overflow: 'hidden' }}>
      <canvas ref={topRef} width={W} height={TOP_H} style={{ position: 'absolute', left: 0, top: 0, width: W, height: TOP_H }} />
      <canvas ref={mainRef} width={W} height={H - MAIN_TOP} style={{ position: 'absolute', left: 0, top: MAIN_TOP, width: W, height: H - MAIN_TOP }} />
    </div>
  );
}
